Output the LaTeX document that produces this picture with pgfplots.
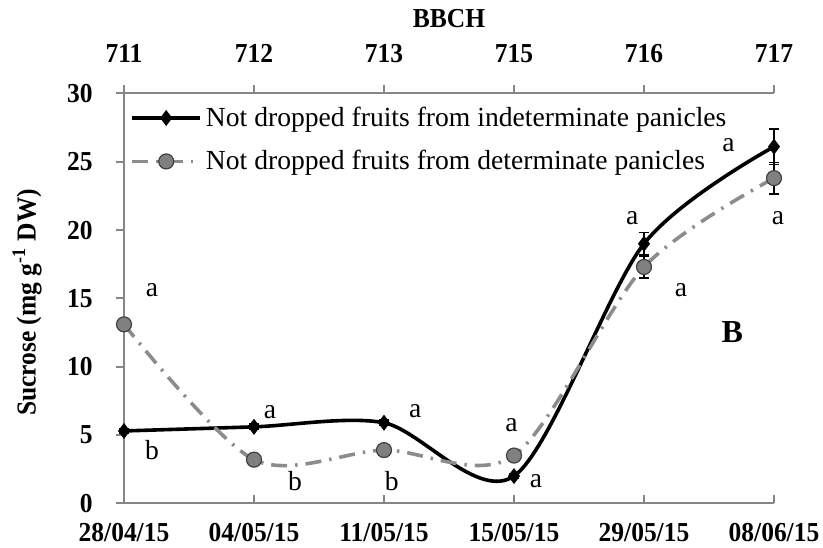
\documentclass[border=0pt]{standalone}
\usepackage{pgfplots}
\pgfplotsset{compat=1.18}
\usepackage{fontspec}
\setmainfont{Liberation Serif}
\newfontfamily\tickfont[FakeStretch=0.93]{Liberation Serif}
\newcommand\fs{\fontsize{13.8}{16.5}\selectfont}
\newcommand\tfs{\fontsize{13.7}{16.4}\selectfont\tickfont\bfseries}

\definecolor{axgray}{RGB}{134,134,134}
\definecolor{sergray}{RGB}{140,140,140}
\definecolor{mkgray}{RGB}{128,128,128}

% x = sampling date index, y = sucrose, e = error
\pgfplotstableread{
x y e
0 5.3 0.2
1 5.6 0.2
2 5.9 0.2
3 2.0 0.2
4 19.0 0.8
5 26.1 1.3
}\tabIndet
\pgfplotstableread{
x y e
0 13.1 0.3
1 3.2 0.2
2 3.9 0.2
3 3.5 0.2
4 17.3 0.8
5 23.8 1.15
}\tabDet

\begin{document}
\begin{tikzpicture}
\begin{axis}[
    name=ax,
    scale only axis, width=325pt, height=205pt,
    xmin=0, xmax=5, ymin=0, ymax=30,
    clip=false,
    axis x line*=bottom, axis y line*=left,
    axis line style={axgray, line width=1pt, -},
    xtick={0,...,5},
    xticklabels={28/04/15,04/05/15,11/05/15,15/05/15,29/05/15,08/06/15},
    ytick={0,5,...,30},
    yticklabels={0,5,10,15,20,25,30},
    /pgf/number format/assume math mode=true,
    xtick align=inside, ytick align=outside,
    major tick length=4pt,
    tick style={axgray, line width=1pt},
    xticklabel style={font=\tfs, anchor=north, inner sep=0pt, yshift=-9.6pt},
    yticklabel style={font=\tfs, anchor=east, inner sep=0pt, xshift=-11.5pt},
    every axis y label/.style={at={(axis description cs:-0.1492,0.49)}, rotate=90, anchor=center, font=\tfs},
    ylabel={Sucrose (mg g\textsuperscript{-1} DW)},
    legend style={at={(axis description cs:0,1)}, anchor=north west, draw=none, fill=none,
        font=\fs, inner sep=0pt, xshift=3pt, yshift=-4.5pt, row sep=6.5pt,
        nodes={inner sep=2pt}},
    legend cell align=left,
    legend image code/.code={
        \draw[mark repeat=2, mark phase=2, #1] plot coordinates {(0pt,0pt) (17pt,0pt) (34pt,0pt)};
    },
]
\addplot[black, line width=1.8pt, smooth,
    mark=diamond*, mark size=3.6pt, mark options={solid, fill=black, line width=0.5pt},
    error bars/.cd, y dir=both, y explicit,
    error bar style={solid, black, line width=0.7pt},
    error mark options={black, rotate=90, mark size=2.5pt, line width=0.7pt}]
    table[x=x, y=y, y error=e] {\tabIndet};
\addlegendentry{Not dropped fruits from indeterminate panicles}

\addplot[sergray, line width=1.8pt, smooth, dash pattern=on 8pt off 4pt on 1.2pt off 4pt,
    mark=*, mark size=3.75pt, mark options={solid, fill=mkgray, draw=black!75, line width=0.6pt},
    error bars/.cd, y dir=both, y explicit,
    error bar style={solid, black, line width=0.7pt},
    error mark options={black, rotate=90, mark size=2.5pt, line width=0.7pt}]
    table[x=x, y=y, y error=e] {\tabDet};
\addlegendentry{Not dropped fruits from determinate panicles}

% significance letters
\node[font=\fs] at (axis cs:0.215,15.6) {a};
\node[font=\fs] at (axis cs:0.215,3.9) {b};
\node[font=\fs] at (axis cs:1.123,6.7) {a};
\node[font=\fs] at (axis cs:1.315,1.6) {b};
\node[font=\fs] at (axis cs:2.06,1.6) {b};
\node[font=\fs] at (axis cs:2.24,6.75) {a};
\node[font=\fs] at (axis cs:2.98,5.73) {a};
\node[font=\fs] at (axis cs:3.17,1.6) {a};
\node[font=\fs] at (axis cs:3.91,20.85) {a};
\node[font=\fs] at (axis cs:4.285,15.6) {a};
\node[font=\fs] at (axis cs:4.65,26.2) {a};
\node[font=\fs] at (axis cs:5.03,20.85) {a};
\node[font=\fontsize{16}{19}\selectfont\bfseries] at (axis cs:4.68,12.5) {B};
\end{axis}

\begin{axis}[
    scale only axis, width=325pt, height=205pt,
    xmin=0, xmax=5, ymin=0, ymax=30,
    axis x line*=top, hide y axis,
    axis line style={axgray, line width=1pt, -},
    xtick={0,...,5},
    xticklabels={711,712,713,715,716,717},
    xtick align=outside, major tick length=4pt,
    tick style={axgray, line width=1pt},
    xticklabel style={font=\tfs, anchor=south, inner sep=0pt, yshift=11.2pt},
    every axis x label/.style={at={(axis description cs:0.5,1)}, anchor=center, yshift=37.5pt, font=\tfs},
    xlabel={BBCH},
]
\end{axis}

\pgfresetboundingbox
\path ([xshift=-62pt,yshift=-22.3pt]ax.south west) rectangle ([xshift=24.5pt,yshift=46.7pt]ax.north east);
\end{tikzpicture}
\end{document}
